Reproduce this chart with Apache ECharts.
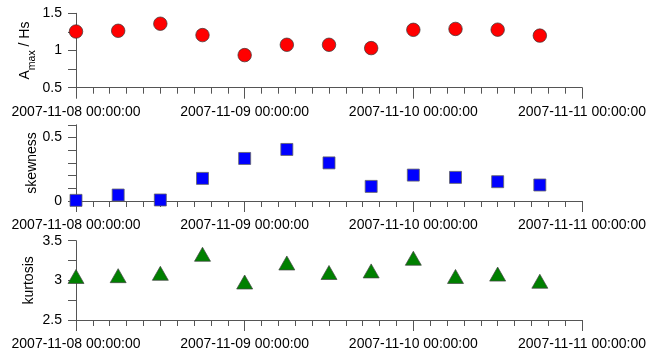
<!DOCTYPE html>
<html>
<head>
<meta charset="utf-8">
<script src="https://cdn.jsdelivr.net/npm/echarts@6/dist/echarts.min.js"></script>
<style>html,body{margin:0;padding:0;background:#fff}#c{width:650px;height:352px}</style>
</head>
<body>
<div id="c"></div>
<script>
// ---- data ----
const times = [
  '2007-11-08 00:00:00','2007-11-08 06:00:00','2007-11-08 12:00:00','2007-11-08 18:00:00',
  '2007-11-09 00:00:00','2007-11-09 06:00:00','2007-11-09 12:00:00','2007-11-09 18:00:00',
  '2007-11-10 00:00:00','2007-11-10 06:00:00','2007-11-10 12:00:00','2007-11-10 18:00:00'
];
const amax = [1.255, 1.265, 1.36, 1.207, 0.938, 1.077, 1.077, 1.032, 1.278, 1.29, 1.28, 1.2];
const skewness = [0.005, 0.047, 0.008, 0.178, 0.335, 0.406, 0.30, 0.115, 0.204, 0.186, 0.152, 0.126];
const kurtosis = [3.02, 3.03, 3.06, 3.30, 2.95, 3.19, 3.07, 3.09, 3.25, 3.02, 3.05, 2.96];
const xMajorTicks = ['2007-11-08 00:00:00','2007-11-09 00:00:00','2007-11-10 00:00:00','2007-11-11 00:00:00'];
const xMin = '2007-11-08 00:00:00';
const xMax = '2007-11-11 00:00:00';
const yTop = {min: 0.5, max: 1.5, step: 0.25, labelEvery: 0.5};
const yMid = {min: 0, max: 0.6, step: 0.1, labelEvery: 0.5};
const yBot = {min: 2.5, max: 3.5, step: 0.25, labelEvery: 0.5};

// ---- helpers ----
function parseLocal(s) {
  const m = s.match(/(\d+)-(\d+)-(\d+) (\d+):(\d+):(\d+)/);
  return new Date(+m[1], +m[2]-1, +m[3], +m[4], +m[5], +m[6]).getTime();
}
function pad(n) { return (n < 10 ? '0' : '') + n; }
function fmt(v) {
  const d = new Date(v);
  return d.getFullYear() + '-' + pad(d.getMonth()+1) + '-' + pad(d.getDate()) + ' ' +
    pad(d.getHours()) + ':' + pad(d.getMinutes()) + ':' + pad(d.getSeconds());
}
const majorMs = xMajorTicks.map(parseLocal);
const minorMs = [];
for (let d = 0; d < majorMs.length - 1; d++) {
  const span = majorMs[d+1] - majorMs[d];
  for (let k = 0; k < 10; k++) minorMs.push(majorMs[d] + span * k / 10);
}
minorMs.push(majorMs[majorMs.length-1]);

const FONT = '"Liberation Sans", Arial, Helvetica, sans-serif';
const LINE = '#555';
const grids = [
  {left: 76, right: 68, top: 13.3, height: 74.4},
  {left: 76, right: 68, top: 124.8, height: 76.2},
  {left: 76, right: 68, top: 240.7, height: 79.3}
];

const xAxes = [];
grids.forEach((g, i) => {
  xAxes.push({
    type: 'value', gridIndex: i, position: 'bottom', min: parseLocal(xMin), max: parseLocal(xMax),
    axisLine: {show: true, lineStyle: {color: LINE, width: 1}},
    axisTick: {show: true, customValues: majorMs, length: 11, lineStyle: {color: LINE}},
    axisLabel: {
      show: true, customValues: majorMs, margin: 17, fontSize: 14, color: '#000', fontFamily: FONT,
      formatter: v => fmt(v)
    },
    splitLine: {show: false}
  });
});
grids.forEach((g, i) => {
  xAxes.push({
    type: 'value', gridIndex: i, position: 'bottom', min: parseLocal(xMin), max: parseLocal(xMax),
    axisLine: {show: false},
    axisTick: {show: true, customValues: minorMs, length: 6, lineStyle: {color: LINE}},
    axisLabel: {show: false},
    splitLine: {show: false}
  });
});

function yAxis(i, cfg, name, gap, nameStyle) {
  return {
    type: 'value', gridIndex: i, min: cfg.min, max: cfg.max, interval: cfg.step,
    axisLine: {show: true, lineStyle: {color: LINE, width: 1}},
    axisTick: {show: true, length: 8, lineStyle: {color: LINE}},
    axisLabel: {
      margin: 14, fontSize: 14, color: '#000', fontFamily: FONT,
      formatter: v => {
        const r = Math.round(v / cfg.labelEvery) * cfg.labelEvery;
        return Math.abs(v - r) < 1e-9 ? String(+r.toFixed(3)) : '';
      }
    },
    splitLine: {show: false},
    name: name, nameLocation: 'middle', nameGap: gap, nameMoveOverlap: false,
    nameTextStyle: Object.assign({fontSize: 14, color: '#000', fontFamily: FONT}, nameStyle || {})
  };
}

const option = {
  animation: false,
  backgroundColor: '#fff',
  grid: grids,
  xAxis: xAxes,
  yAxis: [
    yAxis(0, yTop, '{a|A}{s|max}{a| / Hs}', 38, {
      rich: {
        a: {fontSize: 14, lineHeight: 26, verticalAlign: 'middle', fontFamily: FONT, color: '#000'},
        s: {fontSize: 10.5, lineHeight: 10, verticalAlign: 'bottom', fontFamily: FONT, color: '#000'}
      }
    }),
    yAxis(1, yMid, 'skewness', 37),
    yAxis(2, yBot, 'kurtosis', 40)
  ],
  series: [
    {
      type: 'scatter', xAxisIndex: 0, yAxisIndex: 0,
      data: times.map((t, k) => [parseLocal(t), amax[k]]),
      symbol: 'circle', symbolSize: 13.5,
      itemStyle: {color: '#ff0000', borderColor: '#333', borderWidth: 0.7, opacity: 1}
    },
    {
      type: 'scatter', xAxisIndex: 1, yAxisIndex: 1,
      data: times.map((t, k) => [parseLocal(t), skewness[k]]),
      symbol: 'rect', symbolSize: 12,
      itemStyle: {color: '#0000ff', borderColor: '#666', borderWidth: 0.8, opacity: 1}
    },
    {
      type: 'scatter', xAxisIndex: 2, yAxisIndex: 2,
      data: times.map((t, k) => [parseLocal(t), kurtosis[k]]),
      symbol: 'triangle', symbolSize: [16, 14], symbolOffset: [0, -2.3],
      itemStyle: {color: '#008000', borderColor: '#444', borderWidth: 0.7, opacity: 1}
    }
  ]
};
const chart = echarts.init(document.getElementById('c'), null, {renderer: 'canvas'});
chart.setOption(option);
</script>
</body>
</html>
